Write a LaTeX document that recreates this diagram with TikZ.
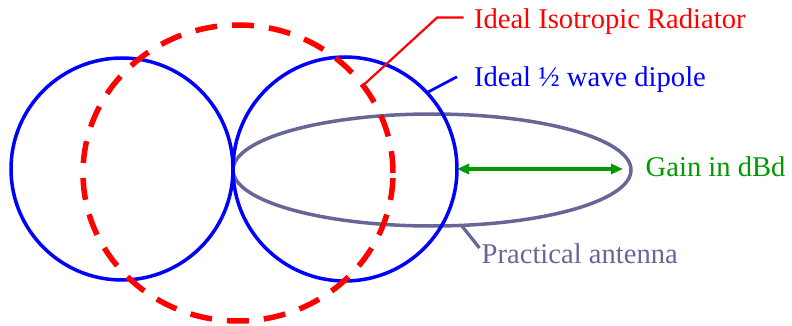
\documentclass[tikz,border=0pt]{standalone}
\usepackage{fontspec}
\setmainfont{Liberation Serif}
\usetikzlibrary{shapes.geometric,arrows.meta}
\definecolor{pracgray}{RGB}{102,102,153}
\definecolor{gaingreen}{RGB}{0,153,0}
\begin{document}
\begin{tikzpicture}[x=1pt,y=-1pt,
  lbl/.style={inner sep=0pt, outer sep=0pt, font=\fontsize{28.6}{34}\selectfont, anchor=base west},
  lobe/.style={circle, draw=blue, line width=3.5pt, inner sep=0pt, outer sep=0pt},
  isobox/.style={ellipse, draw=red, line width=5.5pt, dash pattern=on 22pt off 15pt, inner sep=0pt, outer sep=0pt},
  pracbox/.style={ellipse, draw=pracgray, line width=3.5pt, inner sep=0pt, outer sep=0pt},
  gaintip/.tip={Triangle[length=12pt,width=10pt]}
]
\useasboundingbox (0,0) rectangle (792,326);
% shapes
\node[pracbox, minimum width=398pt, minimum height=112pt] (pa) at (432,170) {};
\node[lobe, minimum size=222pt] (dipL) at (122,169) {};
\node[lobe, minimum size=224pt] (dipR) at (345,169) {};
\node[isobox, minimum width=310pt, minimum height=296pt] (iso) at (238,173) {};
% labels
\node[lbl, text=red] (rl) at (474,28.3) {Ideal Isotropic Radiator};
\node[lbl, text=blue] (dl) at (474,87) {Ideal ½ wave dipole};
\node[lbl, text=gaingreen] (gl) at (645.7,176) {Gain in dBd};
\node[lbl, text=pracgray] (pl) at (481.7,263.3) {Practical antenna};
% leaders
\draw[red, line width=2.2pt] ([shift={(-10.5pt,3.95pt)}]rl.west) -- ++(-26.3,0) -- (iso.35.5);
\draw[blue, line width=2.7pt] ([shift={(-17pt,3.35pt)}]dl.west) -- (dipR.43);
\draw[pracgray, line width=3.2pt] ([shift={(-2.2pt,5.5pt)}]pl.west) -- (pa.-62);
\draw[gaingreen, line width=3.5pt, gaintip-gaintip, shorten >=8pt] (dipR.east) -- (dipR.east -| pa.east);
\end{tikzpicture}
\end{document}
